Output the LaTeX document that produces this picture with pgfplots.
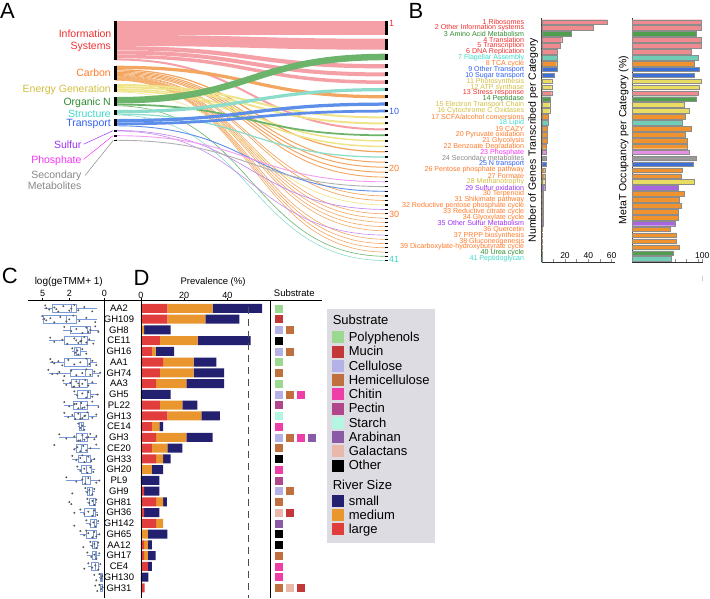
\documentclass[border=0pt]{standalone}
\usepackage{fontspec}
\setmainfont{Liberation Sans}
\usepackage{pgfplots}
\usepackage{pgfplotstable}
\pgfplotsset{compat=1.18}
\usepgfplotslibrary{statistics}

% text colours
\definecolor{tI}{HTML}{F03030}
\definecolor{tC}{HTML}{FF7A2A}
\definecolor{tE}{HTML}{D2BE40}
\definecolor{tO}{HTML}{2E8B2E}
\definecolor{tS}{HTML}{3FD9C8}
\definecolor{tT}{HTML}{2F5FF0}
\definecolor{tU}{HTML}{9A30F0}
\definecolor{tP}{HTML}{F535F5}
\definecolor{tG}{HTML}{888888}
% flow colours
\definecolor{fI}{HTML}{F4A0A6}
\definecolor{fC}{HTML}{F3A660}
\definecolor{fE}{HTML}{F0E48A}
\definecolor{fO}{HTML}{6CB46C}
\definecolor{fS}{HTML}{8CDCCB}
\definecolor{fT}{HTML}{5C8EEA}
\definecolor{fU}{HTML}{C48CF2}
\definecolor{fP}{HTML}{F29CF2}
\definecolor{fG}{HTML}{B0B0B0}
% bar colours
\definecolor{bI}{HTML}{EF8A8E}
\definecolor{bC}{HTML}{F0932F}
\definecolor{bE}{HTML}{E9DC62}
\definecolor{bO}{HTML}{4F9F4F}
\definecolor{bS}{HTML}{72CDB6}
\definecolor{bT}{HTML}{3D6FD9}
\definecolor{bU}{HTML}{A766DF}
\definecolor{bP}{HTML}{E68FE6}
\definecolor{bG}{HTML}{9A9A9A}
% panel D
\definecolor{dL}{HTML}{E23D3D}
\definecolor{dM}{HTML}{E9962F}
\definecolor{dS}{HTML}{23206F}
\definecolor{sPoly}{HTML}{9AD98F}
\definecolor{sMuc}{HTML}{C23838}
\definecolor{sCel}{HTML}{B3B1E6}
\definecolor{sHem}{HTML}{C0703F}
\definecolor{sChi}{HTML}{EE3FA6}
\definecolor{sPec}{HTML}{B0478A}
\definecolor{sSta}{HTML}{B3F7E2}
\definecolor{sAra}{HTML}{8A5AA6}
\definecolor{sGal}{HTML}{E9B8AA}
\definecolor{sOth}{HTML}{000000}
\definecolor{cBox}{HTML}{7A9AD8}
\definecolor{cLeg}{HTML}{DCDCE2}

% sankey plot handler: horizontal-tangent cubic between consecutive points
\makeatletter
\newdimen\sk@xa \newdimen\sk@ya \newdimen\sk@xb \newdimen\sk@yb \newdimen\sk@xm
\newif\ifsk@first
\def\sk@point#1{%
  \pgf@process{#1}%
  \ifsk@first
    \global\sk@xa=\pgf@x \global\sk@ya=\pgf@y
    \pgfpathmoveto{\pgfqpoint{\sk@xa}{\sk@ya}}%
    \global\sk@firstfalse
  \else
    \sk@xb=\pgf@x \sk@yb=\pgf@y
    \sk@xm=\sk@xa \advance\sk@xm by \sk@xb \divide\sk@xm by 2
    \pgfpathcurveto{\pgfqpoint{\sk@xm}{\sk@ya}}{\pgfqpoint{\sk@xm}{\sk@yb}}{\pgfqpoint{\sk@xb}{\sk@yb}}%
    \global\sk@xa=\sk@xb \global\sk@ya=\sk@yb
  \fi}
\def\pgfplothandlersankey{%
  \def\pgf@plotstreamstart{%
    \global\sk@firsttrue
    \global\let\pgf@plotstreampoint=\sk@point
    \global\let\pgf@plotstreamspecial=\pgfutil@gobble
    \global\let\pgf@plotstreamend=\relax}}
\tikzset{sankey/.code={\let\tikz@plot@handler=\pgfplothandlersankey}}
\makeatother

\pgfplotsset{sw/.style={legend image code/.code={\fill[#1] (0pt,-4.1pt) rectangle (11pt,6.9pt); \path (16pt,0pt);}}}
\newcommand\lgn[1]{\raisebox{0pt}[10.2pt][4.05pt]{#1}}
\newcommand\fs[1]{\fontsize{#1}{#1}\selectfont}

\pgfplotstableread{
row large medium small
-1 12.2 21.0 22.9
-2 12.2 17.6 15.8
-3 0 1.4 12.3
-4 8.8 17.5 24.5
-5 5.1 1.7 8.6
-6 10.3 14.1 10.5
-7 8.8 15.6 14.1
-8 7.0 14.0 17.5
-9 0 0 13.7
-10 8.8 10.4 6.9
-11 12.2 15.8 8.6
-12 5.1 3.4 1.7
-13 7.0 14.0 12.2
-14 5.1 7.1 7.0
-15 7.0 3.2 3.5
-16 0 5.1 5.1
-17 0 0 8.5
-18 1.5 0 7.0
-19 7.0 3.2 1.8
-20 1.5 0 7.0
-21 7.0 3.3 0
-22 0 3.2 9.0
-23 1.5 1.7 1.9
-24 1.5 1.7 3.6
-25 3.2 0 1.9
-26 0 0 3.4
-27 1.7 0 0
}\prevtable

\begin{document}
\begin{tikzpicture}
\path[use as bounding box] (0,0) rectangle (710pt,-598pt);

% panel letters
\node[anchor=base west, inner sep=0pt, font=\fs{22}] at (0pt,-18.3pt) {A};
\node[anchor=base west, inner sep=0pt, font=\fs{22}] at (408.3pt,-18.3pt) {B};
\node[anchor=base west, inner sep=0pt, font=\fs{22}] at (1.7pt,-283.3pt) {C};
\node[anchor=base west, inner sep=0pt, font=\fs{22}] at (133.3pt,-285pt) {D};

% ================= PANEL A : Sankey =================
\begin{axis}[at={(115.5pt,0pt)}, anchor=north west, scale only axis,
  width=271pt, height=598pt, xmin=0, xmax=1, ymin=0, ymax=598, y dir=reverse,
  hide axis, clip=false]
% Information systems
\addplot[sankey, fI, line width=14pt] coordinates {(0,27.7) (1,27.7)};
\addplot[sankey, fI, line width=11pt] coordinates {(0,40.4) (1,44.2)};
\addplot[sankey, fI, line width=4.25pt] coordinates {(0,48.225) (1,66.3)};
\addplot[sankey, fI, line width=4pt] coordinates {(0,52.55) (1,74.45)};
\addplot[sankey, fI, line width=3.5pt] coordinates {(0,56.5) (1,82.2)};
\addplot[sankey, fI, line width=2pt] coordinates {(0,59.45) (1,129.45)};
% Carbon
\addplot[sankey, fC, line width=3.25pt] coordinates {(0,67.325) (1,96.8)};
\addplot[sankey, fC, line width=1.25pt] coordinates {(0,69.775) (1,151.8)};
\addplot[sankey, fC, line width=1pt] coordinates {(0,71.1) (1,162.2)};
\addplot[sankey, fC, line width=1pt] coordinates {(0,72.3) (1,167.2)};
\addplot[sankey, fC, line width=1pt] coordinates {(0,73.5) (1,172.2)};
\addplot[sankey, fC, line width=0.9pt] coordinates {(0,74.575) (1,177.1)};
\addplot[sankey, fC, line width=0.7pt] coordinates {(0,75.4) (1,195.95)};
\addplot[sankey, fC, line width=0.7pt] coordinates {(0,76.1) (1,200.45)};
\addplot[sankey, fC, line width=0.6pt] coordinates {(0,76.675) (1,213.8)};
\addplot[sankey, fC, line width=0.6pt] coordinates {(0,77.125) (1,218.1)};
\addplot[sankey, fC, line width=0.6pt] coordinates {(0,77.575) (1,222.3)};
\addplot[sankey, fC, line width=0.6pt] coordinates {(0,78.025) (1,226.6)};
\addplot[sankey, fC, line width=0.6pt] coordinates {(0,78.475) (1,230.8)};
\addplot[sankey, fC, line width=0.6pt] coordinates {(0,78.925) (1,239.3)};
\addplot[sankey, fC, line width=0.6pt] coordinates {(0,79.375) (1,243.6)};
\addplot[sankey, fC, line width=0.6pt] coordinates {(0,79.825) (1,247.8)};
\addplot[sankey, fC, line width=0.6pt] coordinates {(0,80.275) (1,252.1)};
% Energy generation
\addplot[sankey, fE, line width=2pt] coordinates {(0,85) (1,117.45)};
\addplot[sankey, fE, line width=2pt] coordinates {(0,87.2) (1,123.45)};
\addplot[sankey, fE, line width=1.5pt] coordinates {(0,89.15) (1,140.95)};
\addplot[sankey, fE, line width=1.5pt] coordinates {(0,90.85) (1,146.45)};
\addplot[sankey, fE, line width=0.7pt] coordinates {(0,92.05) (1,204.95)};
% Organic N
\addplot[sankey, fO, line width=6.5pt] coordinates {(0,100.25) (1,56.95)};
\addplot[sankey, fO, line width=1.75pt] coordinates {(0,104.575) (1,135.3)};
\addplot[sankey, fO, line width=0.6pt] coordinates {(0,105.775) (1,256.3)};
% Structure
\addplot[sankey, fS, line width=3.25pt] coordinates {(0,111.625) (1,89.6)};
\addplot[sankey, fS, line width=1.25pt] coordinates {(0,114.075) (1,157.1)};
\addplot[sankey, fS, line width=0.6pt] coordinates {(0,115.025) (1,260.6)};
% Transport
\addplot[sankey, fT, line width=3.25pt] coordinates {(0,120.625) (1,104.1)};
\addplot[sankey, fT, line width=2.75pt] coordinates {(0,123.825) (1,111.1)};
\addplot[sankey, fT, line width=0.9pt] coordinates {(0,125.775) (1,191.3)};
% Sulfur, Phosphate, Secondary metabolites
\addplot[sankey, fU, line width=0.7pt] coordinates {(0,130.45) (1,209.45)};
\addplot[sankey, fU, line width=0.6pt] coordinates {(0,131.025) (1,235.1)};
\addplot[sankey, fP, line width=0.9pt] coordinates {(0,135.675) (1,181.8)};
\addplot[sankey, fG, line width=0.9pt] coordinates {(0,140.275) (1,186.6)};
% node bars
\addplot[black, line width=2.2pt, unbounded coords=jump] coordinates {
 (0,20.7) (0,60.45) (0,nan) (0,65.7) (0,80.4) (0,nan) (0,84) (0,92.3) (0,nan)
 (0,97) (0,105.9) (0,nan) (0,110) (0,115.15) (0,nan) (0,119) (0,126.15) (0,nan)
 (0,129.8) (0,131.5) (0,nan) (0,134.9) (0,136.5) (0,nan) (0,139.5) (0,141.1)};
\addplot[black, line width=2.2pt, unbounded coords=jump] coordinates {
 (1,20.7) (1,34.7) (1,nan) (1,38.7) (1,49.7) (1,nan) (1,53.7) (1,60.2) (1,nan)
 (1,64.2) (1,68.45) (1,nan) (1,72.45) (1,76.45) (1,nan) (1,80.45) (1,83.95) (1,nan)
 (1,87.95) (1,91.2) (1,nan) (1,95.2) (1,98.45) (1,nan) (1,102.45) (1,105.7) (1,nan)
 (1,109.7) (1,112.45) (1,nan) (1,116.45) (1,118.45) (1,nan) (1,122.45) (1,124.45) (1,nan)
 (1,128.45) (1,130.45) (1,nan) (1,134.45) (1,136.2) (1,nan) (1,140.2) (1,141.7) (1,nan)
 (1,145.7) (1,147.2) (1,nan) (1,151.2) (1,152.45) (1,nan) (1,156.45) (1,157.7) (1,nan)
 (1,161.7) (1,162.7) (1,nan) (1,166.7) (1,167.7) (1,nan) (1,171.7) (1,172.7) (1,nan)
 (1,176.5) (1,177.7) (1,nan) (1,181.2) (1,182.4) (1,nan) (1,186.0) (1,187.2) (1,nan)
 (1,190.7) (1,191.9) (1,nan) (1,195.35) (1,196.55) (1,nan) (1,199.85) (1,201.05) (1,nan)
 (1,204.35) (1,205.55) (1,nan) (1,208.85) (1,210.05) (1,nan) (1,213.2) (1,214.4) (1,nan)
 (1,217.5) (1,218.7) (1,nan) (1,221.7) (1,222.9) (1,nan) (1,226.0) (1,227.2) (1,nan)
 (1,230.2) (1,231.4) (1,nan) (1,234.5) (1,235.7) (1,nan) (1,238.7) (1,239.9) (1,nan)
 (1,243.0) (1,244.2) (1,nan) (1,247.2) (1,248.4) (1,nan) (1,251.5) (1,252.7) (1,nan)
 (1,255.7) (1,256.9) (1,nan) (1,260.0) (1,261.2)};
% leader lines
\addplot[tU, line width=0.5pt] coordinates {(-0.1177,144.2) (-0.0092,130.7)};
\addplot[tP, line width=0.5pt] coordinates {(-0.1177,159.3) (-0.0092,135.7)};
\addplot[tG, line width=0.5pt] coordinates {(-0.1125,175.5) (-0.0081,140.3)};
% labels
\begin{scope}[every node/.style={anchor=base east, inner sep=0pt, font=\fs{10.5}}]
\node[text=tI, xshift=-4pt] at (axis cs:0,37) {Information};
\node[text=tI, xshift=-4.5pt] at (axis cs:0,49.3) {Systems};
\node[text=tC, xshift=-4.5pt] at (axis cs:0,76.7) {Carbon};
\node[text=tE, xshift=-4.5pt] at (axis cs:0,92.8) {Energy Generation};
\node[text=tO, xshift=-4.5pt] at (axis cs:0,105.2) {Organic N};
\node[text=tS, xshift=-4.5pt] at (axis cs:0,117.5) {Structure};
\node[text=tT, xshift=-4.5pt] at (axis cs:0,126.2) {Transport};
\node[text=tU, xshift=-33.8pt] at (axis cs:0,148.5) {Sulfur};
\node[text=tP, xshift=-33.8pt] at (axis cs:0,163.2) {Phosphate};
\node[text=tG, xshift=-33.8pt] at (axis cs:0,178.2) {Secondary};
\node[text=tG, xshift=-33.8pt] at (axis cs:0,189.2) {Metabolites};
\end{scope}
\begin{scope}[every node/.style={anchor=base west, inner sep=0pt, font=\fs{9}, xshift=2.3pt}]
\node[text=tI] at (axis cs:1,26.7) {1};
\node[text=tT] at (axis cs:1,114.3) {10};
\node[text=tC] at (axis cs:1,171) {20};
\node[text=tC] at (axis cs:1,217.7) {30};
\node[text=tS] at (axis cs:1,262.7) {41};
\end{scope}
\end{axis}

% ================= PANEL B (left bars) =================
\begin{axis}[at={(541.7pt,-18pt)}, anchor=north west, scale only axis,
  width=72.9pt, height=244.3pt, xmin=0, xmax=62.6, ymin=-41.56, ymax=-0.325,
  axis x line=bottom, axis y line=left, axis line style={-, black!80, line width=0.6pt},
  xbar, bar width=4.6pt,
  xtick={20,40,60}, minor xtick={10,30,50}, tick align=inside,
  major tick length=3pt, minor tick length=3pt, tick style={black!45, line width=0.5pt},
  xticklabel style={anchor=south, inner sep=0pt, yshift=3.5pt, font=\fs{8.5}},
  /pgf/number format/assume math mode=true,
  ytick={-1,-2,...,-41}, ytick style={draw=none},
  yticklabel style={anchor=east, inner sep=0pt, xshift=-17.4pt, font=\fs{7.1}},
  yticklabels={{\textcolor{tI}{1 Ribosomes}},{\textcolor{tI}{2 Other Information systems}},{\textcolor{tO}{3 Amino Acid Metabolism}},{\textcolor{tI}{4 Translation}},{\textcolor{tI}{5 Transcription}},{\textcolor{tI}{6 DNA Replication}},{\textcolor{tS}{7 Flagellar Assembly}},{\textcolor{tC}{8 TCA cycle}},{\textcolor{tT}{9 Other Transport}},{\textcolor{tT}{10 Sugar transport}},{\textcolor{tE}{11 Photosynthesis}},{\textcolor{tE}{12 ATP synthase}},{\textcolor{tI}{13 Stress response}},{\textcolor{tO}{14 Peptidase}},{\textcolor{tE}{15 Electron Transport Chain}},{\textcolor{tE}{16 Cytochrome C Oxidases}},{\textcolor{tC}{17 SCFA/alcohol conversions}},{\textcolor{tS}{18 Lipid}},{\textcolor{tC}{19 CAZY}},{\textcolor{tC}{20 Pyruvate oxidation}},{\textcolor{tC}{21 Glycolysis}},{\textcolor{tC}{22 Benzoate Degradation}},{\textcolor{tP}{23 Phosphate}},{\textcolor{tG}{24 Secondary metabolites}},{\textcolor{tT}{25 N transport}},{\textcolor{tC}{26 Pentose phosphate pathway}},{\textcolor{tC}{27 Formate}},{\textcolor{tE}{28 Methanotrophy}},{\textcolor{tU}{29 Sulfur oxidation}},{\textcolor{tC}{30 Terpenoid}},{\textcolor{tC}{31 Shikimate pathway}},{\textcolor{tC}{32 Reductive pentose phosphate cycle}},{\textcolor{tC}{33 Reductive citrate cycle}},{\textcolor{tC}{34 Glyoxylate cycle}},{\textcolor{tU}{35 Other Sulfur Metabolism}},{\textcolor{tC}{36 Quercetin}},{\textcolor{tC}{37 PRPP biosynthesis}},{\textcolor{tC}{38 Gluconeogenesis}},{\textcolor{tC}{39 Dicarboxylate-hydroxybutyrate cycle}},{\textcolor{tO}{40 Urea cycle}},{\textcolor{tS}{41 Peptidoglycan}}},
  ylabel={Number of Genes Transcribed per Category},
  every axis y label/.style={at={(axis description cs:0,0.5)}, rotate=90, anchor=south, font=\fs{10.5}},
]
\addplot[bar shift=0pt, fill=bI, draw=black!45, line width=0.4pt] coordinates {(56.3,-1) (44,-2) (17.2,-4) (15.7,-5) (13.7,-6) (8.6,-13)};
\addplot[bar shift=0pt, fill=bO, draw=black!45, line width=0.4pt] coordinates {(25.7,-3) (7.7,-14) (0.7,-40)};
\addplot[bar shift=0pt, fill=bS, draw=black!45, line width=0.4pt] coordinates {(13.4,-7) (6.0,-18) (0.7,-41)};
\addplot[bar shift=0pt, fill=bC, draw=black!45, line width=0.4pt] coordinates {(12.9,-8) (6.0,-17) (4.8,-19) (4.8,-20) (4.8,-21) (3.7,-22) (2.6,-26) (2.6,-27) (1.4,-30) (1.4,-31) (1.4,-32) (1.4,-33) (1.4,-34) (0.7,-36) (0.7,-37) (0.7,-38) (0.7,-39)};
\addplot[bar shift=0pt, fill=bT, draw=black!45, line width=0.4pt] coordinates {(13.1,-9) (10.8,-10) (3.7,-25)};
\addplot[bar shift=0pt, fill=bE, draw=black!45, line width=0.4pt] coordinates {(8.6,-11) (8.6,-12) (6.9,-15) (6.9,-16) (2.6,-28)};
\addplot[bar shift=0pt, fill=bP, draw=black!45, line width=0.4pt] coordinates {(3.7,-23)};
\addplot[bar shift=0pt, fill=bG, draw=black!45, line width=0.4pt] coordinates {(3.7,-24)};
\addplot[bar shift=0pt, fill=bU, draw=black!45, line width=0.4pt] coordinates {(2.6,-29) (1.4,-35)};
\end{axis}

% ================= PANEL B (right bars) =================
\begin{axis}[at={(632pt,-18pt)}, anchor=north west, scale only axis,
  width=70.7pt, height=244.3pt, xmin=0, xmax=101, ymin=-41.56, ymax=-0.325,
  axis x line=bottom, axis y line=left, axis line style={-, black!80, line width=0.6pt},
  xbar, bar width=4.6pt,
  xtick={100.3}, xticklabels={100}, minor xtick={28.1,44.7,61.4,78.1,94.7}, tick align=inside,
  major tick length=3pt, minor tick length=3pt, tick style={black!45, line width=0.5pt},
  xticklabel style={anchor=south, inner sep=0pt, yshift=3.5pt, font=\fs{8.5}},
  ytick=\empty,
  ylabel={MetaT Occupancy per Category (\%)},
  every axis y label/.style={at={(axis description cs:0,0.5)}, rotate=90, anchor=south, font=\fs{10.5}},
]
\addplot[bar shift=0pt, fill=bI, draw=black!45, line width=0.4pt] coordinates {(99.5,-1) (99.5,-2) (98.6,-4) (98.6,-5) (84.3,-6) (94.8,-13)};
\addplot[bar shift=0pt, fill=bO, draw=black!45, line width=0.4pt] coordinates {(91.9,-3) (91.9,-14) (58.6,-40)};
\addplot[bar shift=0pt, fill=bS, draw=black!45, line width=0.4pt] coordinates {(94.8,-7) (71.9,-18) (55.7,-41)};
\addplot[bar shift=0pt, fill=bC, draw=black!45, line width=0.4pt] coordinates {(88.6,-8) (76.2,-17) (84.3,-19) (76.2,-20) (79,-21) (79,-22) (72.4,-26) (70.5,-27) (74.3,-30) (67.6,-31) (70.5,-32) (65.7,-33) (65.7,-34) (54.8,-36) (63.8,-37) (63.8,-38) (67.6,-39)};
\addplot[bar shift=0pt, fill=bT, draw=black!45, line width=0.4pt] coordinates {(95.7,-9) (88.6,-10) (88.1,-25)};
\addplot[bar shift=0pt, fill=bE, draw=black!45, line width=0.4pt] coordinates {(98.6,-11) (96.7,-12) (74.3,-15) (81.4,-16) (88.6,-28)};
\addplot[bar shift=0pt, fill=bP, draw=black!45, line width=0.4pt] coordinates {(81.4,-23)};
\addplot[bar shift=0pt, fill=bG, draw=black!45, line width=0.4pt] coordinates {(92.4,-24)};
\addplot[bar shift=0pt, fill=bU, draw=black!45, line width=0.4pt] coordinates {(65.7,-29) (62.4,-35)};
\end{axis}
\node[text=black!40, font=\fs{6}] at (702.7pt,-279.3pt) {|};

% ================= PANEL C : boxplots =================
\begin{axis}[at={(27.9pt,-300.5pt)}, anchor=north west, scale only axis,
  width=76.4pt, height=297.5pt, xmin=-76.4, xmax=0, ymin=-27.95, ymax=-0.27,
  axis x line=top, axis y line=right, axis line style={-, black, line width=0.8pt},
  xtick={-61.6,-35,0}, xticklabels={5,2,0}, tick align=outside, major tick length=3pt,
  tick style={black, line width=0.6pt},
  xticklabel style={anchor=south, inner sep=0pt, yshift=1pt, font=\fs{9}},
  ytick=\empty,
  boxplot/draw direction=x, boxplot/box extend=0.72, boxplot/whisker extend=0,
  clip=false]
\pgfplotsset{every boxplot/.style={cBox, line width=0.6pt}}
\addplot[cBox, boxplot prepared={lower whisker=-60.3, lower quartile=-52, median=-32.6, upper quartile=-28.3, upper whisker=-7.6, draw position=-1}] coordinates {};
\addplot[cBox, boxplot prepared={lower whisker=-62.6, lower quartile=-61, median=-37.6, upper quartile=-28.3, upper whisker=-7.6, draw position=-2}] coordinates {};
\addplot[cBox, boxplot prepared={lower whisker=-41, lower quartile=-34.3, median=-17, upper quartile=-14.3, upper whisker=-5, draw position=-3}] coordinates {};
\addplot[cBox, boxplot prepared={lower whisker=-55, lower quartile=-40, median=-22.6, upper quartile=-17, upper whisker=-9.3, draw position=-4}] coordinates {};
\addplot[cBox, boxplot prepared={lower whisker=-32.6, lower quartile=-30.3, median=-27.6, upper quartile=-24.3, upper whisker=-17, draw position=-5}] coordinates {};
\addplot[cBox, boxplot prepared={lower whisker=-54.3, lower quartile=-40, median=-17, upper quartile=-14.3, upper whisker=-7.6, draw position=-6}] coordinates {};
\addplot[cBox, boxplot prepared={lower whisker=-55.6, lower quartile=-33.6, median=-18.6, upper quartile=-11.6, upper whisker=-4.3, draw position=-7}] coordinates {};
\addplot[cBox, boxplot prepared={lower whisker=-41.6, lower quartile=-32.6, median=-25.3, upper quartile=-17, upper whisker=-7.6, draw position=-8}] coordinates {};
\addplot[cBox, boxplot prepared={lower whisker=-30.3, lower quartile=-27, median=-17, upper quartile=-14.3, upper whisker=-5, draw position=-9}] coordinates {};
\addplot[cBox, boxplot prepared={lower whisker=-40, lower quartile=-31, median=-24.3, upper quartile=-17, upper whisker=-5, draw position=-10}] coordinates {};
\addplot[cBox, boxplot prepared={lower whisker=-40, lower quartile=-30.3, median=-24.3, upper quartile=-16, upper whisker=-7.6, draw position=-11}] coordinates {};
\addplot[cBox, boxplot prepared={lower whisker=-26, lower quartile=-25.3, median=-23, upper quartile=-21, upper whisker=-18.3, draw position=-12}] coordinates {};
\addplot[cBox, boxplot prepared={lower whisker=-45, lower quartile=-27.6, median=-21.6, upper quartile=-17, upper whisker=-7.6, draw position=-13}] coordinates {};
\addplot[cBox, boxplot prepared={lower whisker=-30.3, lower quartile=-27.6, median=-22.6, upper quartile=-17, upper whisker=-4.3, draw position=-14}] coordinates {};
\addplot[cBox, boxplot prepared={lower whisker=-32.6, lower quartile=-26, median=-18.3, upper quartile=-13.6, upper whisker=-9.3, draw position=-15}] coordinates {};
\addplot[cBox, boxplot prepared={lower whisker=-27.6, lower quartile=-23.3, median=-17.6, upper quartile=-12.6, upper whisker=-9.3, draw position=-16}] coordinates {};
\addplot[cBox, boxplot prepared={lower whisker=-38.6, lower quartile=-22, median=-19, upper quartile=-14.3, upper whisker=-4.3, draw position=-17}] coordinates {};
\addplot[cBox, boxplot prepared={lower whisker=-19.3, lower quartile=-17, median=-15, upper quartile=-11.6, upper whisker=-9.3, draw position=-18}] coordinates {};
\addplot[cBox, boxplot prepared={lower whisker=-17, lower quartile=-15, median=-11, upper quartile=-9.3, upper whisker=-7, draw position=-19}] coordinates {};
\addplot[cBox, boxplot prepared={lower whisker=-24.3, lower quartile=-20, median=-11, upper quartile=-9.3, upper whisker=-6, draw position=-20}] coordinates {};
\addplot[cBox, boxplot prepared={lower whisker=-18.3, lower quartile=-13.6, median=-10, upper quartile=-7.6, upper whisker=-5, draw position=-21}] coordinates {};
\addplot[cBox, boxplot prepared={lower whisker=-24.3, lower quartile=-18.3, median=-11, upper quartile=-7.6, upper whisker=-4.3, draw position=-22}] coordinates {};
\addplot[cBox, boxplot prepared={lower whisker=-14.3, lower quartile=-12, median=-9.6, upper quartile=-7, upper whisker=-5, draw position=-23}] coordinates {};
\addplot[cBox, boxplot prepared={lower whisker=-17, lower quartile=-12, median=-9.3, upper quartile=-7.6, upper whisker=-4.3, draw position=-24}] coordinates {};
\addplot[cBox, boxplot prepared={lower whisker=-16, lower quartile=-12.6, median=-9.3, upper quartile=-6, upper whisker=-4.3, draw position=-25}] coordinates {};
\addplot[cBox, boxplot prepared={lower whisker=-5, lower quartile=-4.3, median=-2.6, upper quartile=-2, upper whisker=-1, draw position=-26}] coordinates {};
\addplot[cBox, boxplot prepared={lower whisker=-4.5, lower quartile=-3.6, median=-2.3, upper quartile=-1.6, upper whisker=-1, draw position=-27}] coordinates {};
\addplot[only marks, mark=*, mark size=0.75pt, black!65] coordinates {
(-59,-0.72) (-55,-1.12) (-50,-0.92) (-46,-1.30) (-41,-0.80) (-35,-1.22) (-33,-1.02) (-30,-0.68) (-26,-1.18) (-20,-0.88) (-12,-1.28) (-58,-0.98) (-48,-1.08)
(-62,-1.72) (-58,-2.12) (-54,-1.92) (-50,-2.30) (-44,-1.80) (-38,-2.22) (-35,-2.02) (-31,-1.68) (-25,-2.18) (-18,-1.88) (-9,-2.28) (-60,-1.98)
(-40,-2.72) (-33,-3.12) (-28,-2.92) (-22,-3.30) (-18,-2.80) (-16,-3.22) (-14,-3.02) (-9,-2.68) (-6,-3.18)
(-54,-3.72) (-50,-4.12) (-42,-3.92) (-37,-4.30) (-30,-3.80) (-26,-4.22) (-23,-4.02) (-20,-3.68) (-18,-4.18) (-15,-3.88) (-11,-4.28) (-28,-3.98) (-24,-4.08)
(-32,-4.72) (-29,-5.12) (-27,-4.92) (-26,-5.30) (-22,-4.80) (-18,-5.22)
(-54,-5.72) (-50,-6.12) (-46,-5.92) (-42,-6.30) (-36,-5.80) (-30,-6.22) (-24,-6.02) (-18,-5.68) (-15,-6.18) (-12,-5.88) (-8,-6.28) (-52,-5.98)
(-56,-6.72) (-52,-7.12) (-45,-6.92) (-40,-7.30) (-33,-6.80) (-28,-7.22) (-22,-7.02) (-18,-6.68) (-14,-7.18) (-10,-6.88) (-6,-7.28) (-4,-6.98) (-47,-7.08)
(-41,-7.72) (-38,-8.12) (-34,-7.92) (-31,-8.30) (-28,-7.80) (-25,-8.22) (-22,-8.02) (-19,-7.68) (-16,-8.18) (-12,-7.88) (-30,-8.28) (-26,-7.98)
(-30,-8.72) (-27,-9.12) (-22,-8.92) (-18,-9.30) (-16,-8.80) (-12,-9.22) (-7,-9.02)
(-40,-9.72) (-35,-10.12) (-30,-9.92) (-26,-10.30) (-23,-9.80) (-20,-10.22) (-17,-10.02) (-12,-9.68) (-6,-10.18) (-28,-9.88) (-22,-10.28)
(-40,-10.72) (-36,-11.12) (-32,-10.92) (-29,-11.30) (-26,-10.80) (-22,-11.22) (-20,-11.02) (-17,-10.68) (-12,-11.18) (-8,-10.88) (-24,-11.28) (-19,-10.98)
(-26,-11.72) (-24,-12.12) (-22,-11.92) (-20,-12.30)
(-45,-12.72) (-38,-13.12) (-30,-12.92) (-26,-13.30) (-22,-12.80) (-20,-13.22) (-18,-13.02) (-14,-12.68) (-10,-13.18) (-8,-12.88) (-24,-13.28) (-16,-12.98)
(-50,-13.72) (-30,-14.12) (-27,-13.92) (-24,-14.30) (-21,-13.80) (-18,-14.22) (-14,-14.02) (-8,-13.68)
(-32,-14.72) (-28,-15.12) (-24,-14.92) (-20,-15.30) (-16,-14.80) (-13,-15.22) (-10,-15.02) (-22,-14.68)
(-27,-15.72) (-24,-16.12) (-20,-15.92) (-17,-16.30) (-14,-15.80) (-11,-16.22)
(-38,-16.72) (-28,-17.12) (-22,-16.92) (-19,-17.30) (-16,-16.80) (-8,-17.22) (-5,-17.02)
(-19,-17.72) (-17,-18.12) (-15,-17.92) (-12,-18.30) (-10,-17.80) (-32,-18.22)
(-17,-18.72) (-15,-19.12) (-12,-18.92) (-10,-19.30) (-8,-18.80) (-33,-19.22) (-35,-19.02)
(-24,-19.72) (-20,-20.12) (-16,-19.92) (-12,-20.30) (-10,-19.80) (-7,-20.22) (-30,-20.02)
(-18,-20.72) (-14,-21.12) (-11,-20.92) (-9,-21.30) (-6,-20.80) (-30,-21.22)
(-24,-21.72) (-20,-22.12) (-16,-21.92) (-12,-22.30) (-10,-21.80) (-8,-22.22) (-5,-22.02) (-18,-21.68)
(-14,-22.72) (-12,-23.12) (-10,-22.92) (-8,-23.30) (-6,-22.80) (-21,-23.22)
(-17,-23.72) (-13,-24.12) (-10,-23.92) (-8,-24.30) (-5,-23.80)
(-16,-24.72) (-12,-25.12) (-9,-24.92) (-6,-25.30) (-4,-24.80) (-20,-25.22)
(-5,-25.72) (-3,-26.12) (-2,-25.92) (-8,-26.30) (-10,-25.80)
(-5,-26.72) (-3,-27.12) (-2,-26.92) (-7,-27.30) (-9,-26.80)};
\node[anchor=base, inner sep=0pt, font=\fs{10}, yshift=16.5pt] at (axis cs:-35.5,-0.27) {log(geTMM+ 1)};
\end{axis}

% ================= PANEL D : prevalence bars =================
\begin{axis}[at={(104.3pt,-300.5pt)}, anchor=north west, scale only axis,
  width=165.7pt, height=297.5pt, xmin=-17.0, xmax=59.78, ymin=-27.95, ymax=-0.27,
  axis x line=top, axis y line=left, x axis line style={-, black, line width=0.8pt},
  y axis line style={draw=none},
  xbar stacked, bar width=9pt,
  xtick={0,20,40}, tick align=outside, major tick length=3pt, xtick style={black, line width=0.6pt},
  xticklabel style={anchor=south, inner sep=0pt, yshift=-1pt, font=\fs{9}},
  /pgf/number format/assume math mode=true,
  ytick={-1,-2,...,-27}, ytick style={draw=none},
  yticklabels={AA2,GH109,GH8,CE11,GH16,AA1,GH74,AA3,GH5,PL22,GH13,CE14,GH3,CE20,GH33,GH20,PL9,GH9,GH81,GH36,GH142,GH65,AA12,GH17,CE4,GH130,GH31},
  yticklabel style={anchor=center, inner sep=0pt, xshift=17.7pt, font=\fs{9.5}},
  clip=false]
\addplot[fill=dL, draw=none] table[x=large, y=row] {\prevtable};
\addplot[fill=dM, draw=none] table[x=medium, y=row] {\prevtable};
\addplot[fill=dS, draw=none] table[x=small, y=row] {\prevtable};
\node[anchor=base, inner sep=0pt, font=\fs{9.5}, yshift=16.5pt] at (axis cs:33.4,-0.27) {Prevalence (\%)};
\end{axis}
\begin{axis}[at={(104.3pt,-300.5pt)}, anchor=north west, scale only axis,
  width=165.7pt, height=297.5pt, xmin=-17.0, xmax=59.78, ymin=-27.95, ymax=-0.27,
  hide axis, clip=false]
\addplot[black, line width=0.8pt] coordinates {(0,-0.27) (0,-27.95)};
\addplot[black!70, line width=0.8pt, dash pattern=on 7pt off 5pt] coordinates {(50,-0.9) (50,-27.95)};
\end{axis}

% ================= Substrate squares =================
\begin{axis}[at={(270pt,-300.5pt)}, anchor=north west, scale only axis,
  width=52pt, height=297.5pt, xmin=0.26, xmax=4.89, ymin=-27.95, ymax=-0.27,
  axis x line=top, axis y line=left, axis line style={-, black, line width=0.8pt},
  xtick=\empty, ytick=\empty, clip=false]
\pgfplotsset{every axis plot/.append style={only marks, mark=square*, mark size=4.5pt}}
\addplot[mark options={fill=sPoly, draw=white, line width=0.3pt}] coordinates {(1,-1) (1,-6) (1,-8)};
\addplot[mark options={fill=sMuc, draw=white, line width=0.3pt}] coordinates {(1,-2) (2,-20) (3,-27)};
\addplot[mark options={fill=sCel, draw=white, line width=0.3pt}] coordinates {(1,-3) (1,-5) (1,-9) (1,-13) (1,-18)};
\addplot[mark options={fill=sHem, draw=white, line width=0.3pt}] coordinates {(2,-3) (2,-5) (1,-7) (2,-9) (2,-13) (1,-14) (2,-18) (1,-19) (1,-24) (1,-27)};
\addplot[mark options={fill=sChi, draw=white, line width=0.3pt}] coordinates {(3,-9) (1,-12) (3,-13) (1,-16) (1,-25) (1,-26)};
\addplot[mark options={fill=sPec, draw=white, line width=0.3pt}] coordinates {(1,-10) (1,-17)};
\addplot[mark options={fill=sSta, draw=white, line width=0.3pt}] coordinates {(1,-11)};
\addplot[mark options={fill=sAra, draw=white, line width=0.3pt}] coordinates {(4,-13) (1,-21)};
\addplot[mark options={fill=sGal, draw=white, line width=0.3pt}] coordinates {(1,-20) (2,-27)};
\addplot[mark options={fill=sOth, draw=white, line width=0.3pt}] coordinates {(1,-4) (1,-15) (1,-22) (1,-23)};
\node[anchor=base, inner sep=0pt, font=\fs{9.5}, yshift=4pt] at (axis cs:2.42,-0.27) {Substrate};
\end{axis}

% ================= Legend =================
\begin{axis}[at={(326.7pt,-308.3pt)}, anchor=north west, scale only axis,
  width=111pt, height=234pt, hide axis, xmin=0, xmax=1, ymin=0, ymax=1,
  legend cell align=left,
  legend style={at={(0,1)}, anchor=north west, draw=none, fill=cLeg,
    inner xsep=5.5pt, inner ysep=5.5pt, font=\fs{13}, row sep=0pt,
    nodes={inner sep=0pt, text depth=}}]
\addlegendimage{empty legend}\addlegendentry{\hspace*{-16pt}\raisebox{0pt}[10.2pt][7.2pt]{Substrate}}
\addlegendimage{sw=sPoly}\addlegendentry{\lgn{Polyphenols}}
\addlegendimage{sw=sMuc}\addlegendentry{\lgn{Mucin}}
\addlegendimage{sw=sCel}\addlegendentry{\lgn{Cellulose}}
\addlegendimage{sw=sHem}\addlegendentry{\lgn{Hemicellulose}}
\addlegendimage{sw=sChi}\addlegendentry{\lgn{Chitin}}
\addlegendimage{sw=sPec}\addlegendentry{\lgn{Pectin}}
\addlegendimage{sw=sSta}\addlegendentry{\lgn{Starch}}
\addlegendimage{sw=sAra}\addlegendentry{\lgn{Arabinan}}
\addlegendimage{sw=sGal}\addlegendentry{\lgn{Galactans}}
\addlegendimage{sw=sOth}\addlegendentry{\lgn{Other}}
\addlegendimage{empty legend}\addlegendentry{\hspace*{-16pt}\raisebox{0pt}[15.95pt][5pt]{River Size}}
\addlegendimage{sw=dS}\addlegendentry{\lgn{small}}
\addlegendimage{sw=dM}\addlegendentry{\lgn{medium}}
\addlegendimage{sw=dL}\addlegendentry{\lgn{large}}
\end{axis}
\end{tikzpicture}
\end{document}
